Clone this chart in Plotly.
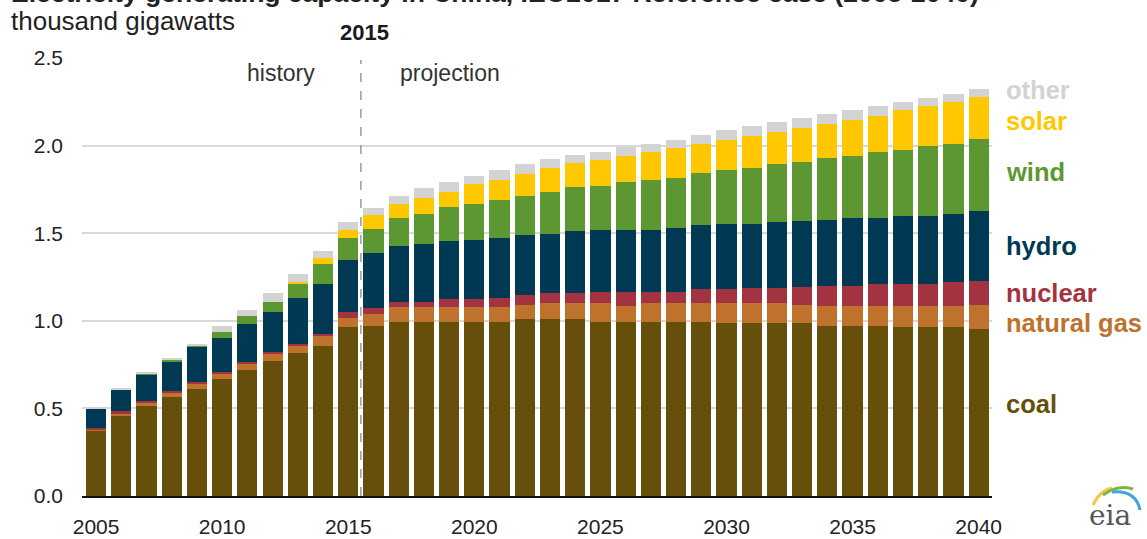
import plotly.graph_objects as go

years = list(range(2005, 2041))

coal = [0.373, 0.462, 0.515, 0.563, 0.608, 0.665, 0.722, 0.770, 0.816, 0.859, 0.962,
        0.971, 0.996, 0.996, 0.996, 0.996, 0.996, 1.008, 1.008, 1.008, 0.996, 0.996,
        0.996, 0.996, 0.996, 0.985, 0.985, 0.985, 0.985, 0.973, 0.973, 0.973, 0.962,
        0.962, 0.962, 0.951]
natural_gas = [0.006, 0.010, 0.017, 0.030, 0.034, 0.034, 0.034, 0.042, 0.042, 0.055, 0.055,
               0.070, 0.080, 0.080, 0.080, 0.080, 0.080, 0.080, 0.091, 0.091, 0.103, 0.091,
               0.103, 0.103, 0.103, 0.114, 0.114, 0.114, 0.103, 0.114, 0.114, 0.114, 0.125,
               0.125, 0.125, 0.137]
nuclear = [0.010, 0.011, 0.011, 0.006, 0.011, 0.011, 0.011, 0.011, 0.011, 0.011, 0.034,
           0.034, 0.034, 0.034, 0.046, 0.046, 0.057, 0.057, 0.057, 0.057, 0.068, 0.080,
           0.068, 0.068, 0.080, 0.080, 0.091, 0.091, 0.103, 0.114, 0.114, 0.125, 0.125,
           0.125, 0.137, 0.137]
hydro = [0.112, 0.125, 0.152, 0.169, 0.198, 0.194, 0.217, 0.230, 0.264, 0.287, 0.298,
         0.310, 0.319, 0.331, 0.331, 0.342, 0.342, 0.342, 0.342, 0.354, 0.354, 0.354,
         0.354, 0.365, 0.365, 0.376, 0.365, 0.376, 0.376, 0.376, 0.388, 0.376, 0.388,
         0.388, 0.388, 0.399]
wind = [0.000, 0.000, 0.002, 0.010, 0.010, 0.032, 0.046, 0.055, 0.080, 0.114, 0.125,
        0.137, 0.160, 0.171, 0.194, 0.205, 0.217, 0.228, 0.240, 0.251, 0.251, 0.274,
        0.285, 0.285, 0.297, 0.308, 0.319, 0.331, 0.342, 0.354, 0.354, 0.376, 0.376,
        0.399, 0.399, 0.411]
solar = [0.000, 0.000, 0.000, 0.000, 0.000, 0.000, 0.000, 0.000, 0.010, 0.032, 0.046,
         0.080, 0.080, 0.091, 0.091, 0.114, 0.114, 0.125, 0.137, 0.137, 0.148, 0.148,
         0.160, 0.171, 0.171, 0.171, 0.183, 0.183, 0.194, 0.194, 0.205, 0.205, 0.228,
         0.228, 0.240, 0.240]
other = [0.006, 0.006, 0.006, 0.006, 0.006, 0.034, 0.030, 0.048, 0.044, 0.038, 0.044,
         0.044, 0.046, 0.057, 0.057, 0.046, 0.057, 0.057, 0.046, 0.046, 0.046, 0.049,
         0.046, 0.046, 0.046, 0.057, 0.057, 0.057, 0.057, 0.057, 0.057, 0.057, 0.046,
         0.046, 0.046, 0.046]

series_names = ["coal", "natural gas", "nuclear", "hydro", "wind", "solar", "other"]
series_values = [coal, natural_gas, nuclear, hydro, wind, solar, other]
series_colors = ["#664F0A", "#BE722B", "#A33340", "#003953", "#5D9732", "#FFC700", "#D3D3D3"]
label_y = [0.525, 0.987, 1.159, 1.427, 1.85, 2.14, 2.317]

x_ticks = [2005, 2010, 2015, 2020, 2025, 2030, 2035, 2040]
y_ticks = [0.0, 0.5, 1.0, 1.5, 2.0, 2.5]

FONT = "Liberation Sans, Arial, sans-serif"

# plot area geometry (pixels)
W, H = 1147, 539
L, R, T, B = 82, 155, 58, 43
PW = W - L - R
PH = H - T - B


def px(xp):
    return (xp - L) / PW


def py(yp):
    return (H - B - yp) / PH


fig = go.Figure()
for name, vals, col in zip(series_names, series_values, series_colors):
    fig.add_trace(go.Bar(x=years, y=vals, name=name, marker=dict(color=col, line=dict(width=0)),
                         showlegend=False))

# series labels at right
for name, col, yv in zip(series_names, series_colors, label_y):
    fig.add_annotation(x=px(1004), xref="paper", y=yv, yref="y", text="<b>%s</b>" % name,
                       showarrow=False, xanchor="left", yanchor="middle",
                       font=dict(family=FONT, size=25.5, color=col))

# history / projection divider
fig.add_shape(type="line", x0=2015.5, x1=2015.5, xref="x", y0=0, y1=py(60), yref="paper",
              line=dict(color="#9a9a9a", width=1.5, dash="dash"), layer="above")
fig.add_annotation(x=2015.5, xref="x", y=py(33), yref="paper", text="<b>2015</b>", showarrow=False,
                   xanchor="center", yanchor="middle", xshift=4,
                   font=dict(family=FONT, size=22, color="#1a1a1a"))
fig.add_annotation(x=2015.5, xref="x", y=py(73), yref="paper", text="history", showarrow=False,
                   xanchor="right", yanchor="middle", xshift=-44,
                   font=dict(family=FONT, size=23, color="#333333"))
fig.add_annotation(x=2015.5, xref="x", y=py(73), yref="paper", text="projection", showarrow=False,
                   xanchor="left", yanchor="middle", xshift=37,
                   font=dict(family=FONT, size=23, color="#333333"))

# axis unit label
fig.add_annotation(x=px(9), xref="paper", y=py(21), yref="paper", text="thousand gigawatts",
                   showarrow=False, xanchor="left", yanchor="middle",
                   font=dict(family=FONT, size=26, color="#222222"))

# cut-off title at the very top
fig.add_annotation(x=px(9), xref="paper", y=py(10), yref="paper",
                   text="<b>Electricity generating capacity in China, IEO2017 Reference case (2005-2040)</b>",
                   showarrow=False, xanchor="left", yanchor="bottom",
                   font=dict(family=FONT, size=26.5, color="#222222"))

# eia logo (approximation)
fig.add_annotation(x=px(1110), xref="paper", y=py(515), yref="paper", text="eia",
                   showarrow=False, xanchor="center", yanchor="middle",
                   font=dict(family="DejaVu Serif, serif", size=28, color="#555555"))
fig.add_shape(type="path", xref="paper", yref="paper",
              path="M %f %f Q %f %f %f %f" % (px(1093), py(505), px(1100), py(490), px(1112), py(488)),
              line=dict(color="#F2C94C", width=3))
fig.add_shape(type="path", xref="paper", yref="paper",
              path="M %f %f Q %f %f %f %f" % (px(1103), py(495), px(1118), py(484), px(1133), py(489)),
              line=dict(color="#7DB343", width=3))
fig.add_shape(type="path", xref="paper", yref="paper",
              path="M %f %f Q %f %f %f %f" % (px(1112), py(492), px(1136), py(490), px(1140), py(510)),
              line=dict(color="#3DA5DC", width=3))

fig.update_layout(
    width=W, height=H,
    margin=dict(l=L, r=R, t=T, b=B, autoexpand=False),
    barmode="stack", bargap=0.2,
    plot_bgcolor="white", paper_bgcolor="white",
    font=dict(family=FONT, size=21, color="#222222"),
)
fig.update_xaxes(range=[2004.44, 2040.53], tickvals=x_ticks, ticktext=[str(v) for v in x_ticks],
                 showgrid=False, showline=True, linecolor="#111111", linewidth=2,
                 ticks="", ticklabelstandoff=11, tickfont=dict(family=FONT, size=21, color="#222222"),
                 zeroline=False, fixedrange=True)
fig.update_yaxes(range=[0, 2.5], tickvals=y_ticks, ticktext=["%.1f" % v for v in y_ticks],
                 showgrid=True, gridcolor="#D9D9D9", gridwidth=1.5, zeroline=False,
                 showline=False, ticks="", ticklabelstandoff=18,
                 tickfont=dict(family=FONT, size=21, color="#222222"), fixedrange=True)

fig.write_html("out.html", config={"displayModeBar": False},
               post_script="document.body.style.margin='0px';document.body.style.overflow='hidden';")
